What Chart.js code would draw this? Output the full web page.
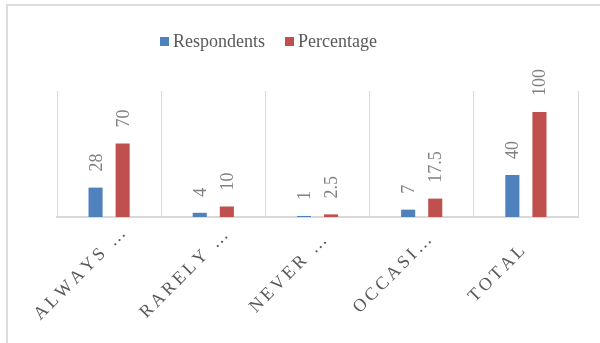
<!DOCTYPE html>
<html>
<head>
<meta charset="utf-8">
<script src="https://cdn.jsdelivr.net/npm/chart.js@4/dist/chart.umd.min.js"></script>
<style>
  html, body { margin: 0; padding: 0; background: #fff; }
  #wrap { position: relative; width: 600px; height: 343px; overflow: hidden; }
  #frame { position: absolute; left: 6px; top: 4px; width: 700px; height: 500px;
           border-left: 2px solid #dcdcdc; border-top: 2px solid #dcdcdc; }
  #c { position: absolute; left: 0; top: 0; }
</style>
</head>
<body>
<div id="wrap">
  <div id="frame"></div>
  <canvas id="c" width="600" height="343"></canvas>
</div>
<script>
// Survey answers
const categories = ['ALWAYS …', 'RARELY …', 'NEVER …', 'OCCASI…', 'TOTAL'];
const respondents = [28, 4, 1, 7, 40];
const percentage = [70, 10, 2.5, 17.5, 100];
const seriesNames = ['Respondents', 'Percentage'];
const seriesColors = ['#4F81BD', '#C0504D'];

const SERIF = '"Liberation Serif", "Times New Roman", serif';

// Legend centred over the plot, drawn as coloured squares with names
const legendPlugin = {
  id: 'topLegend',
  afterDraw(chart) {
    const ctx = chart.ctx;
    ctx.save();
    ctx.font = '18px ' + SERIF;
    ctx.textBaseline = 'middle';
    ctx.textAlign = 'left';
    let x = 160;
    const y = 42;
    seriesNames.forEach((name, i) => {
      ctx.fillStyle = seriesColors[i];
      ctx.fillRect(x, y - 5, 9, 9);
      ctx.fillStyle = '#595959';
      ctx.fillText(name, x + 13, y);
      x += 13 + ctx.measureText(name).width + 20;
    });
    ctx.restore();
  }
};

// Value labels above each bar, written vertically
const valueLabels = {
  id: 'valueLabels',
  afterDatasetsDraw(chart) {
    const ctx = chart.ctx;
    ctx.save();
    ctx.font = '18px ' + SERIF;
    ctx.fillStyle = '#808080';
    ctx.textAlign = 'left';
    ctx.textBaseline = 'alphabetic';
    chart.data.datasets.forEach((ds, di) => {
      const meta = chart.getDatasetMeta(di);
      meta.data.forEach((bar, i) => {
        ctx.save();
        ctx.translate(bar.x + 6, bar.y - 16);
        ctx.rotate(-Math.PI / 2);
        ctx.fillText(String(ds.data[i]), 0, 0);
        ctx.restore();
      });
    });
    ctx.restore();
  }
};

// Category names along the bottom, slanted at 45 degrees with wide tracking
const categoryLabels = {
  id: 'categoryLabels',
  afterDraw(chart) {
    const ctx = chart.ctx;
    const xs = chart.scales.x;
    const base = chart.chartArea.bottom;
    const track = 3.2;
    ctx.save();
    ctx.font = '18px ' + SERIF;
    ctx.fillStyle = '#595959';
    ctx.textAlign = 'center';
    ctx.textBaseline = 'middle';
    if ('fontKerning' in ctx) ctx.fontKerning = 'none';
    if ('letterSpacing' in ctx) ctx.letterSpacing = track + 'px';
    categories.forEach((label, i) => {
      const cx = xs.getPixelForValue(i);
      ctx.save();
      ctx.translate(cx - 29, base + 57);
      ctx.rotate(-Math.PI / 4);
      ctx.fillText(label, track / 2, 0);
      ctx.restore();
    });
    ctx.restore();
  }
};

new Chart(document.getElementById('c'), {
  type: 'bar',
  data: {
    labels: categories,
    datasets: [
      { label: seriesNames[0], data: respondents, backgroundColor: seriesColors[0] },
      { label: seriesNames[1], data: percentage, backgroundColor: seriesColors[1] }
    ]
  },
  options: {
    responsive: false,
    animation: false,
    devicePixelRatio: 1,
    layout: { padding: { left: 57, right: 22, top: 91, bottom: 126 } },
    datasets: { bar: { categoryPercentage: 0.52, barPercentage: 0.52 } },
    plugins: { legend: { display: false }, tooltip: { enabled: false } },
    scales: {
      x: {
        offset: true,
        grid: { offset: true, color: '#d9d9d9', lineWidth: 1, drawTicks: false },
        border: { color: '#d9d9d9', width: 2 },
        ticks: { display: false }
      },
      y: { display: false, min: 0, max: 120 }
    }
  },
  plugins: [legendPlugin, valueLabels, categoryLabels]
});
</script>
</body>
</html>
